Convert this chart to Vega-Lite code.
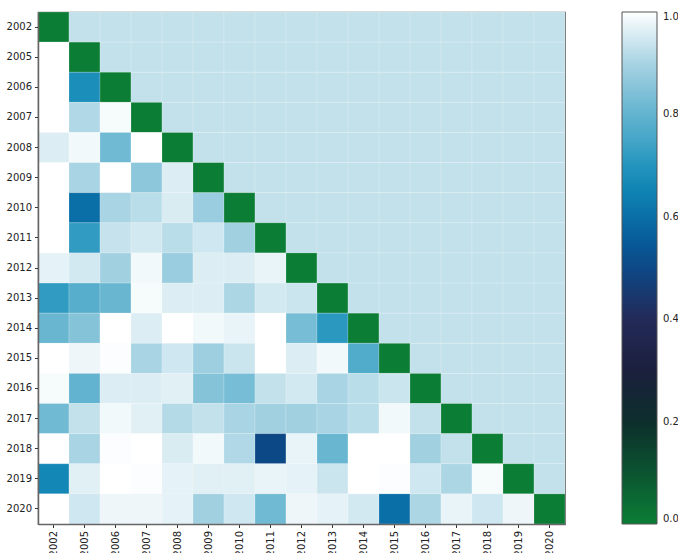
{
  "$schema": "https://vega.github.io/schema/vega-lite/v6.json",
  "autosize": {"type": "none"},
  "padding": {"left": 38, "top": 12, "right": 113, "bottom": 29},
  "width": 527,
  "height": 512,
  "background": "white",
  "config": {
    "font": "DejaVu Sans",
    "view": {"stroke": "#666", "strokeWidth": 1.2},
    "axis": {"labelFont": "DejaVu Sans", "labelFontSize": 10, "labelColor": "#222", "tickColor": "#333", "tickSize": 3.5, "domain": true, "domainColor": "#666", "domainWidth": 1.5, "grid": false, "title": null, "labelPadding": 2}
  },
  "data": {"values": [
    {"r":"2002","c":"2002","v":0},{"r":"2002","c":"2005","v":0.93},{"r":"2002","c":"2006","v":0.93},{"r":"2002","c":"2007","v":0.93},{"r":"2002","c":"2008","v":0.93},{"r":"2002","c":"2009","v":0.93},{"r":"2002","c":"2010","v":0.93},{"r":"2002","c":"2011","v":0.93},{"r":"2002","c":"2012","v":0.93},{"r":"2002","c":"2013","v":0.93},{"r":"2002","c":"2014","v":0.93},{"r":"2002","c":"2015","v":0.93},{"r":"2002","c":"2016","v":0.93},{"r":"2002","c":"2017","v":0.93},{"r":"2002","c":"2018","v":0.93},{"r":"2002","c":"2019","v":0.93},{"r":"2002","c":"2020","v":0.93},
    {"r":"2005","c":"2002","v":1.0},{"r":"2005","c":"2005","v":0},{"r":"2005","c":"2006","v":0.93},{"r":"2005","c":"2007","v":0.93},{"r":"2005","c":"2008","v":0.93},{"r":"2005","c":"2009","v":0.93},{"r":"2005","c":"2010","v":0.93},{"r":"2005","c":"2011","v":0.93},{"r":"2005","c":"2012","v":0.93},{"r":"2005","c":"2013","v":0.93},{"r":"2005","c":"2014","v":0.93},{"r":"2005","c":"2015","v":0.93},{"r":"2005","c":"2016","v":0.93},{"r":"2005","c":"2017","v":0.93},{"r":"2005","c":"2018","v":0.93},{"r":"2005","c":"2019","v":0.93},{"r":"2005","c":"2020","v":0.93},
    {"r":"2006","c":"2002","v":1.0},{"r":"2006","c":"2005","v":0.68},{"r":"2006","c":"2006","v":0},{"r":"2006","c":"2007","v":0.93},{"r":"2006","c":"2008","v":0.93},{"r":"2006","c":"2009","v":0.93},{"r":"2006","c":"2010","v":0.93},{"r":"2006","c":"2011","v":0.93},{"r":"2006","c":"2012","v":0.93},{"r":"2006","c":"2013","v":0.93},{"r":"2006","c":"2014","v":0.93},{"r":"2006","c":"2015","v":0.93},{"r":"2006","c":"2016","v":0.93},{"r":"2006","c":"2017","v":0.93},{"r":"2006","c":"2018","v":0.93},{"r":"2006","c":"2019","v":0.93},{"r":"2006","c":"2020","v":0.93},
    {"r":"2007","c":"2002","v":1.0},{"r":"2007","c":"2005","v":0.91},{"r":"2007","c":"2006","v":0.99},{"r":"2007","c":"2007","v":0},{"r":"2007","c":"2008","v":0.93},{"r":"2007","c":"2009","v":0.93},{"r":"2007","c":"2010","v":0.93},{"r":"2007","c":"2011","v":0.93},{"r":"2007","c":"2012","v":0.93},{"r":"2007","c":"2013","v":0.93},{"r":"2007","c":"2014","v":0.93},{"r":"2007","c":"2015","v":0.93},{"r":"2007","c":"2016","v":0.93},{"r":"2007","c":"2017","v":0.93},{"r":"2007","c":"2018","v":0.93},{"r":"2007","c":"2019","v":0.93},{"r":"2007","c":"2020","v":0.93},
    {"r":"2008","c":"2002","v":0.96},{"r":"2008","c":"2005","v":0.985},{"r":"2008","c":"2006","v":0.82},{"r":"2008","c":"2007","v":1.0},{"r":"2008","c":"2008","v":0},{"r":"2008","c":"2009","v":0.93},{"r":"2008","c":"2010","v":0.93},{"r":"2008","c":"2011","v":0.93},{"r":"2008","c":"2012","v":0.93},{"r":"2008","c":"2013","v":0.93},{"r":"2008","c":"2014","v":0.93},{"r":"2008","c":"2015","v":0.93},{"r":"2008","c":"2016","v":0.93},{"r":"2008","c":"2017","v":0.93},{"r":"2008","c":"2018","v":0.93},{"r":"2008","c":"2019","v":0.93},{"r":"2008","c":"2020","v":0.93},
    {"r":"2009","c":"2002","v":1.0},{"r":"2009","c":"2005","v":0.9},{"r":"2009","c":"2006","v":1.0},{"r":"2009","c":"2007","v":0.86},{"r":"2009","c":"2008","v":0.96},{"r":"2009","c":"2009","v":0},{"r":"2009","c":"2010","v":0.93},{"r":"2009","c":"2011","v":0.93},{"r":"2009","c":"2012","v":0.93},{"r":"2009","c":"2013","v":0.93},{"r":"2009","c":"2014","v":0.93},{"r":"2009","c":"2015","v":0.93},{"r":"2009","c":"2016","v":0.93},{"r":"2009","c":"2017","v":0.93},{"r":"2009","c":"2018","v":0.93},{"r":"2009","c":"2019","v":0.93},{"r":"2009","c":"2020","v":0.93},
    {"r":"2010","c":"2002","v":1.0},{"r":"2010","c":"2005","v":0.6},{"r":"2010","c":"2006","v":0.9},{"r":"2010","c":"2007","v":0.92},{"r":"2010","c":"2008","v":0.955},{"r":"2010","c":"2009","v":0.88},{"r":"2010","c":"2010","v":0},{"r":"2010","c":"2011","v":0.93},{"r":"2010","c":"2012","v":0.93},{"r":"2010","c":"2013","v":0.93},{"r":"2010","c":"2014","v":0.93},{"r":"2010","c":"2015","v":0.93},{"r":"2010","c":"2016","v":0.93},{"r":"2010","c":"2017","v":0.93},{"r":"2010","c":"2018","v":0.93},{"r":"2010","c":"2019","v":0.93},{"r":"2010","c":"2020","v":0.93},
    {"r":"2011","c":"2002","v":1.0},{"r":"2011","c":"2005","v":0.72},{"r":"2011","c":"2006","v":0.935},{"r":"2011","c":"2007","v":0.95},{"r":"2011","c":"2008","v":0.92},{"r":"2011","c":"2009","v":0.945},{"r":"2011","c":"2010","v":0.89},{"r":"2011","c":"2011","v":0},{"r":"2011","c":"2012","v":0.93},{"r":"2011","c":"2013","v":0.93},{"r":"2011","c":"2014","v":0.93},{"r":"2011","c":"2015","v":0.93},{"r":"2011","c":"2016","v":0.93},{"r":"2011","c":"2017","v":0.93},{"r":"2011","c":"2018","v":0.93},{"r":"2011","c":"2019","v":0.93},{"r":"2011","c":"2020","v":0.93},
    {"r":"2012","c":"2002","v":0.97},{"r":"2012","c":"2005","v":0.95},{"r":"2012","c":"2006","v":0.89},{"r":"2012","c":"2007","v":0.985},{"r":"2012","c":"2008","v":0.88},{"r":"2012","c":"2009","v":0.96},{"r":"2012","c":"2010","v":0.96},{"r":"2012","c":"2011","v":0.975},{"r":"2012","c":"2012","v":0},{"r":"2012","c":"2013","v":0.93},{"r":"2012","c":"2014","v":0.93},{"r":"2012","c":"2015","v":0.93},{"r":"2012","c":"2016","v":0.93},{"r":"2012","c":"2017","v":0.93},{"r":"2012","c":"2018","v":0.93},{"r":"2012","c":"2019","v":0.93},{"r":"2012","c":"2020","v":0.93},
    {"r":"2013","c":"2002","v":0.72},{"r":"2013","c":"2005","v":0.78},{"r":"2013","c":"2006","v":0.81},{"r":"2013","c":"2007","v":0.99},{"r":"2013","c":"2008","v":0.96},{"r":"2013","c":"2009","v":0.96},{"r":"2013","c":"2010","v":0.905},{"r":"2013","c":"2011","v":0.95},{"r":"2013","c":"2012","v":0.94},{"r":"2013","c":"2013","v":0},{"r":"2013","c":"2014","v":0.93},{"r":"2013","c":"2015","v":0.93},{"r":"2013","c":"2016","v":0.93},{"r":"2013","c":"2017","v":0.93},{"r":"2013","c":"2018","v":0.93},{"r":"2013","c":"2019","v":0.93},{"r":"2013","c":"2020","v":0.93},
    {"r":"2014","c":"2002","v":0.81},{"r":"2014","c":"2005","v":0.85},{"r":"2014","c":"2006","v":1.0},{"r":"2014","c":"2007","v":0.96},{"r":"2014","c":"2008","v":1.0},{"r":"2014","c":"2009","v":0.985},{"r":"2014","c":"2010","v":0.975},{"r":"2014","c":"2011","v":1.0},{"r":"2014","c":"2012","v":0.83},{"r":"2014","c":"2013","v":0.71},{"r":"2014","c":"2014","v":0},{"r":"2014","c":"2015","v":0.93},{"r":"2014","c":"2016","v":0.93},{"r":"2014","c":"2017","v":0.93},{"r":"2014","c":"2018","v":0.93},{"r":"2014","c":"2019","v":0.93},{"r":"2014","c":"2020","v":0.93},
    {"r":"2015","c":"2002","v":1.0},{"r":"2015","c":"2005","v":0.98},{"r":"2015","c":"2006","v":0.995},{"r":"2015","c":"2007","v":0.9},{"r":"2015","c":"2008","v":0.945},{"r":"2015","c":"2009","v":0.885},{"r":"2015","c":"2010","v":0.94},{"r":"2015","c":"2011","v":1.0},{"r":"2015","c":"2012","v":0.96},{"r":"2015","c":"2013","v":0.985},{"r":"2015","c":"2014","v":0.77},{"r":"2015","c":"2015","v":0},{"r":"2015","c":"2016","v":0.93},{"r":"2015","c":"2017","v":0.93},{"r":"2015","c":"2018","v":0.93},{"r":"2015","c":"2019","v":0.93},{"r":"2015","c":"2020","v":0.93},
    {"r":"2016","c":"2002","v":0.99},{"r":"2016","c":"2005","v":0.8},{"r":"2016","c":"2006","v":0.96},{"r":"2016","c":"2007","v":0.96},{"r":"2016","c":"2008","v":0.965},{"r":"2016","c":"2009","v":0.85},{"r":"2016","c":"2010","v":0.83},{"r":"2016","c":"2011","v":0.93},{"r":"2016","c":"2012","v":0.95},{"r":"2016","c":"2013","v":0.9},{"r":"2016","c":"2014","v":0.92},{"r":"2016","c":"2015","v":0.94},{"r":"2016","c":"2016","v":0},{"r":"2016","c":"2017","v":0.93},{"r":"2016","c":"2018","v":0.93},{"r":"2016","c":"2019","v":0.93},{"r":"2016","c":"2020","v":0.93},
    {"r":"2017","c":"2002","v":0.82},{"r":"2017","c":"2005","v":0.93},{"r":"2017","c":"2006","v":0.985},{"r":"2017","c":"2007","v":0.965},{"r":"2017","c":"2008","v":0.915},{"r":"2017","c":"2009","v":0.93},{"r":"2017","c":"2010","v":0.9},{"r":"2017","c":"2011","v":0.89},{"r":"2017","c":"2012","v":0.89},{"r":"2017","c":"2013","v":0.9},{"r":"2017","c":"2014","v":0.92},{"r":"2017","c":"2015","v":0.985},{"r":"2017","c":"2016","v":0.93},{"r":"2017","c":"2017","v":0},{"r":"2017","c":"2018","v":0.93},{"r":"2017","c":"2019","v":0.93},{"r":"2017","c":"2020","v":0.93},
    {"r":"2018","c":"2002","v":1.0},{"r":"2018","c":"2005","v":0.9},{"r":"2018","c":"2006","v":0.995},{"r":"2018","c":"2007","v":1.0},{"r":"2018","c":"2008","v":0.955},{"r":"2018","c":"2009","v":0.985},{"r":"2018","c":"2010","v":0.91},{"r":"2018","c":"2011","v":0.5},{"r":"2018","c":"2012","v":0.975},{"r":"2018","c":"2013","v":0.81},{"r":"2018","c":"2014","v":1.0},{"r":"2018","c":"2015","v":1.0},{"r":"2018","c":"2016","v":0.89},{"r":"2018","c":"2017","v":0.93},{"r":"2018","c":"2018","v":0},{"r":"2018","c":"2019","v":0.93},{"r":"2018","c":"2020","v":0.93},
    {"r":"2019","c":"2002","v":0.66},{"r":"2019","c":"2005","v":0.965},{"r":"2019","c":"2006","v":1.0},{"r":"2019","c":"2007","v":0.995},{"r":"2019","c":"2008","v":0.97},{"r":"2019","c":"2009","v":0.965},{"r":"2019","c":"2010","v":0.965},{"r":"2019","c":"2011","v":0.975},{"r":"2019","c":"2012","v":0.97},{"r":"2019","c":"2013","v":0.94},{"r":"2019","c":"2014","v":1.0},{"r":"2019","c":"2015","v":0.995},{"r":"2019","c":"2016","v":0.945},{"r":"2019","c":"2017","v":0.905},{"r":"2019","c":"2018","v":0.99},{"r":"2019","c":"2019","v":0},{"r":"2019","c":"2020","v":0.93},
    {"r":"2020","c":"2002","v":1.0},{"r":"2020","c":"2005","v":0.945},{"r":"2020","c":"2006","v":0.98},{"r":"2020","c":"2007","v":0.98},{"r":"2020","c":"2008","v":0.97},{"r":"2020","c":"2009","v":0.89},{"r":"2020","c":"2010","v":0.945},{"r":"2020","c":"2011","v":0.82},{"r":"2020","c":"2012","v":0.98},{"r":"2020","c":"2013","v":0.97},{"r":"2020","c":"2014","v":0.95},{"r":"2020","c":"2015","v":0.6},{"r":"2020","c":"2016","v":0.905},{"r":"2020","c":"2017","v":0.975},{"r":"2020","c":"2018","v":0.945},{"r":"2020","c":"2019","v":0.98},{"r":"2020","c":"2020","v":0}
  ]},
  "mark": {"type": "rect", "stroke": "#ffffff", "strokeWidth": 0.6, "strokeOpacity": 0.3},
  "encoding": {
    "x": {"field": "c", "type": "ordinal", "sort": null, "scale": {"paddingInner": 0, "paddingOuter": 0},
      "axis": {"labelAngle": 270, "labelAlign": "right", "labelBaseline": "middle", "labelPadding": 3}},
    "y": {"field": "r", "type": "ordinal", "sort": null, "scale": {"paddingInner": 0, "paddingOuter": 0},
      "axis": {"labelPadding": 3}},
    "color": {"field": "v", "type": "quantitative",
      "scale": {"domain": [0, 0.1, 0.2, 0.3, 0.4, 0.5, 0.55, 0.6, 0.65, 0.7, 0.75, 0.8, 0.9, 1.0],
        "range": ["#0b7d35", "#0b5430", "#0d2e2c", "#1b1f3d", "#232a58", "#0d4886", "#075a98", "#0a6fa7", "#0f84b3", "#2394bd", "#45a6c8", "#62b3cf", "#a8d4e3", "#ffffff"],
        "interpolate": "rgb"},
      "legend": {"title": null, "orient": "right", "direction": "vertical", "offset": 57, "padding": 0,
        "gradientLength": 512, "gradientThickness": 35, "gradientStrokeColor": "#555", "gradientStrokeWidth": 1,
        "values": [0, 0.2, 0.4, 0.6, 0.8, 1.0], "format": ".1f", "labelFontSize": 10, "labelColor": "#222",
        "labelFont": "DejaVu Sans", "labelOffset": 6, "labelBaseline": "middle", "labelOverlap": false}}
  }
}
